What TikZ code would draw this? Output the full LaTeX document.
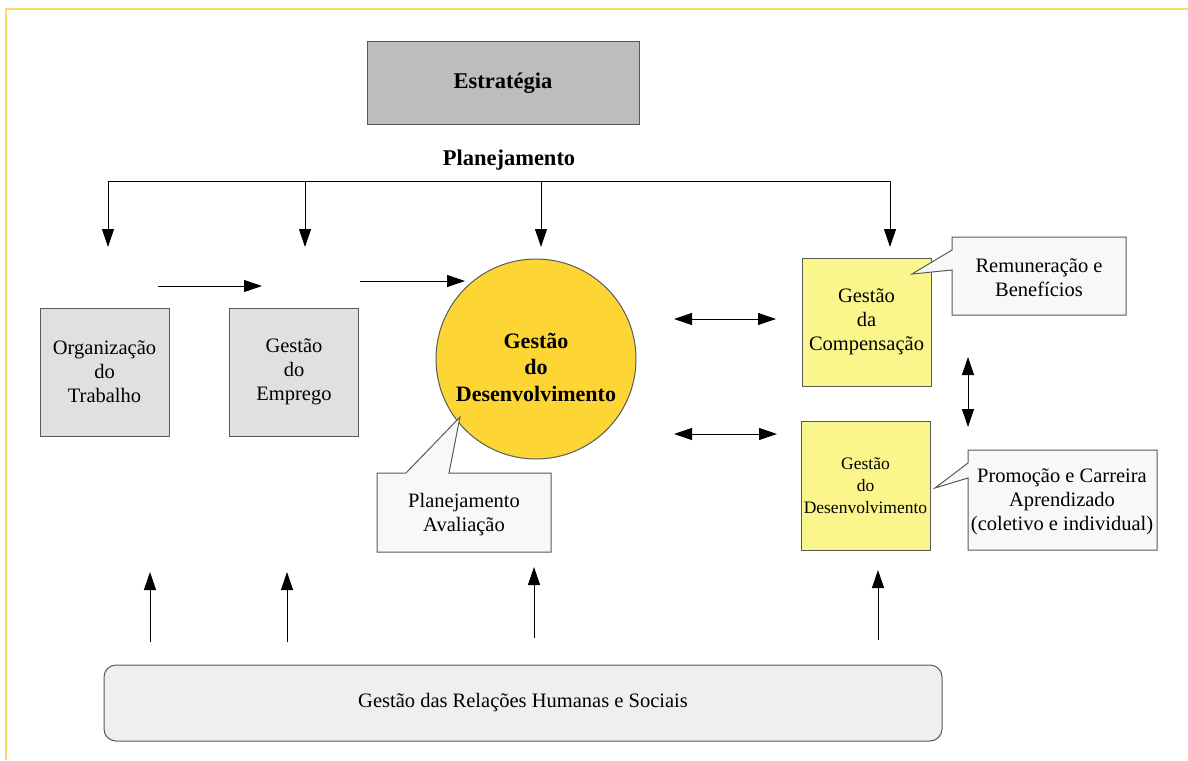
\documentclass[tikz,border=0pt]{standalone}
\usepackage{fontspec}
\setmainfont{Liberation Serif}
\usepackage{xcolor}
\usetikzlibrary{arrows.meta}
\definecolor{framey}{HTML}{FFD966}
\definecolor{stratgray}{HTML}{BDBDBD}
\definecolor{boxgray}{HTML}{E0E0E0}
\definecolor{coregold}{HTML}{FDD635}
\definecolor{paleyellow}{HTML}{FAF68C}
\definecolor{notegray}{HTML}{F8F8F8}
\definecolor{basegray}{HTML}{EFEFEF}

\begin{document}
\begin{tikzpicture}[x=1pt,y=-1pt,
	box/.style={draw=black!65, line width=1pt, inner sep=0pt, align=center, minimum width=129pt, minimum height=128pt, font=\fontsize{20.5}{24}\selectfont},
	txt/.style={align=center, inner sep=0pt, font=\fontsize{20.5}{24}\selectfont},
	note/.style={draw=black!65, line width=1pt, fill=notegray},
	arr/.style={line width=1pt, -{Triangle[width=12pt,length=18pt]}},
	darr/.style={line width=1pt, {Triangle[width=12pt,length=18pt]}-{Triangle[width=12pt,length=18pt]}}]
	\useasboundingbox (0,0) rectangle (1188,760);
	\draw[framey, line width=2pt] (6,760) -- (6,9) -- (1188,9);
	% top
	\node[box, fill=stratgray, minimum width=272pt, minimum height=82pt, font=\bfseries\fontsize{22.5}{26}\selectfont] (strat) at (503,83) {Estratégia};
	\node[txt, font=\bfseries\fontsize{22.5}{26}\selectfont] (plan) at (509,160) {Planejamento};
	\coordinate (busW) at (108,181);
	\coordinate (busE) at (890,181);
	\draw[line width=1pt] (busW) -- (busE);
	\foreach \x/\n in {108/A,305/B,541/C,890/D} {
		\coordinate (top\n) at (\x,181);
		\coordinate (end\n) at (\x,247);
		\draw[arr] (top\n) -- (end\n);
	}
	% boxes
	\node[box, fill=boxgray] (org) at (104.5,372) {Organização\\do\\Trabalho};
	\node[box, fill=boxgray] (emp) at (294,372) {Gestão\\do\\Emprego};
	\node[circle, draw=black!65, line width=1pt, fill=coregold, minimum size=200pt] (core) at (536,359) {};
	\node[txt, font=\bfseries\fontsize{22}{26.5}\selectfont] (coretxt) at (536,367) {Gestão\\do\\Desenvolvimento};
	\node[box, fill=paleyellow] (comp) at (866.5,322) {Gestão\\da\\Compensação};
	\node[box, fill=paleyellow, minimum height=129pt, font=\fontsize{17.5}{22}\selectfont] (dev) at (865.5,485.5) {Gestão\\do\\Desenvolvimento};
	% notes
	\draw[note] (377,473) -- (406,473) -- (460,417) -- (449,473) -- (551,473) -- (551,552) -- (377,552) -- cycle;
	\node[txt] (planav) at (464,515) {Planejamento\\Avaliação};
	\draw[note] (952,237) -- (1126,237) -- (1126,315) -- (952,315) -- (952,270) -- (912,274) -- (952,250) -- cycle;
	\node[txt] (remun) at (1039,278) {Remuneração e\\Benefícios};
	\draw[note] (968,450) -- (1157,450) -- (1157,550) -- (968,550) -- (968,478) -- (935,488) -- (968,463) -- cycle;
	\node[txt] (promo) at (1062,502) {Promoção e Carreira\\Aprendizado\\(coletivo e individual)};
	% flow arrows
	\coordinate (f1) at (158,286); \coordinate (f2) at (262,286);
	\coordinate (f3) at (360,281); \coordinate (f4) at (465,281);
	\draw[arr] (f1) -- (f2);
	\draw[arr] (f3) -- (f4);
	\coordinate (h1) at (674,319); \coordinate (h2) at (776,319);
	\coordinate (h3) at (674,434); \coordinate (h4) at (777,434);
	\coordinate (v1) at (968,357); \coordinate (v2) at (968,427);
	\draw[darr] (h1) -- (h2);
	\draw[darr] (h3) -- (h4);
	\draw[darr] (v1) -- (v2);
	% base
	\node[box, fill=basegray, rounded corners=12pt, minimum width=838pt, minimum height=76pt] (base) at (523,703) {Gestão das Relações Humanas e Sociais};
	\foreach \x/\a/\b in {150/642/572,287/642/572,534/638/567,878/640/570} {
		\coordinate (up\x) at (\x,\a);
		\coordinate (tip\x) at (\x,\b);
		\draw[arr] (up\x) -- (tip\x);
	}
\end{tikzpicture}
\end{document}
